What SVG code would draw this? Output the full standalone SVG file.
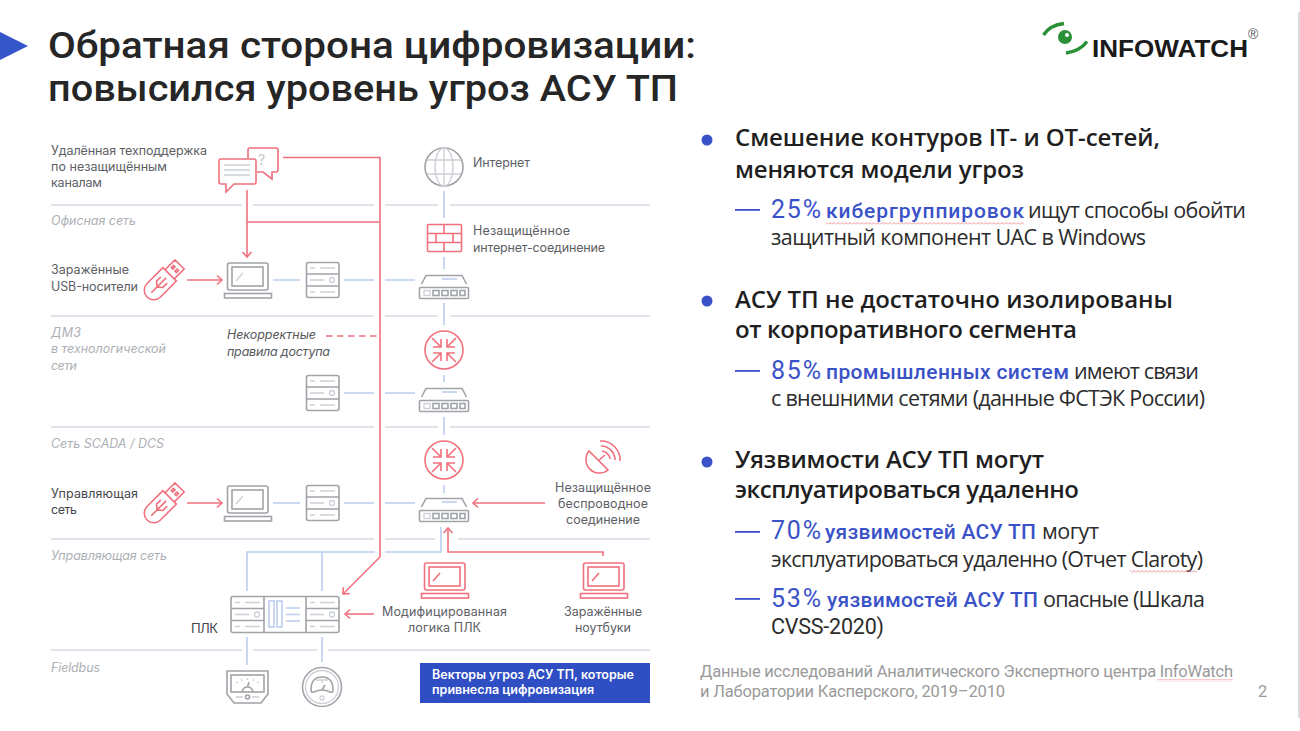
<svg xmlns="http://www.w3.org/2000/svg" width="1300" height="731" viewBox="0 0 1300 731">
<style>
text{font-family:"Open Sans","Liberation Sans",sans-serif}
.ttl{font-family:Roboto,"Open Sans",sans-serif;font-size:36.5px;font-weight:500;fill:#262626}
.h{font-size:24px;font-weight:600;fill:#1f1f1f}
.s{font-size:21.5px;fill:#2c2c2c}
.sr{font-family:Roboto,"Open Sans",sans-serif;font-size:21.5px;fill:#2c2c2c}
.sb{font-family:Roboto,"Open Sans",sans-serif;font-size:21px;font-weight:500;fill:#3a52c8}
.pc{font-family:Roboto,"Open Sans",sans-serif;font-size:25px;font-weight:400;fill:#3a52c8}
.f{font-family:Roboto,"Open Sans",sans-serif;font-size:16.5px;fill:#9a9a9a}
.l,.li,.ld{font-family:Inter,"Liberation Sans",sans-serif;font-size:12.5px}
.l{fill:#5d6065}
.li{fill:#adb0b5;font-style:italic}
.ld{fill:#55585c;font-style:italic}
.w{font-family:Inter,"Liberation Sans",sans-serif;font-size:12.5px;font-weight:600;fill:#fff}
.g{fill:none;stroke:#a0a3a7;stroke-width:1.6}
.gl{fill:none;stroke:#ccd0d6;stroke-width:1.3}
.bl{fill:none;stroke:#bccdf0;stroke-width:1.6}
.r{fill:none;stroke:#f0707e;stroke-width:1.6}
.ra{fill:none;stroke:#f0707e;stroke-width:1.6;marker-end:url(#ah)}
.rule{fill:none;stroke:#d6dae3;stroke-width:1.6}
.dash{fill:#3a52c8}
</style>
<defs>
<marker id="ah" markerUnits="userSpaceOnUse" markerWidth="12" markerHeight="12" refX="9" refY="6" orient="auto"><path d="M4 1.500L9 6L4 10.500" fill="none" stroke="#f0707e" stroke-width="1.600"/></marker>
<pattern id="sq" patternUnits="userSpaceOnUse" width="4" height="3"><path d="M0 2.500L2 .5L4 2.500" fill="none" stroke="#e8636b" stroke-width=".7"/></pattern>
<g id="lap"><rect class="g" x="3.500" y="1" width="40.500" height="27" rx="2"/><rect class="g" x="8" y="5" width="31" height="19"/><path class="gl" d="M12 19L19 11"/><rect class="g" x=".5" y="31.500" width="47" height="4.500"/></g>
<g id="lapr"><rect class="r" x="3.500" y="1" width="40.500" height="27" rx="2"/><rect class="r" x="8" y="5" width="31" height="19"/><path class="r" d="M12 19L19 11"/><rect class="r" x=".5" y="31.500" width="47" height="4.500"/></g>
<g id="srv"><rect class="g" x=".5" y=".5" width="32.500" height="35" rx="2"/><path class="g" d="M.5 12H33M.5 24H33"/><path class="gl" d="M4 6H9M14 6H29M4 18H18M4 30H9M14 30H29"/><circle class="gl" cx="26" cy="18" r="2.500"/></g>
<g id="sw"><path class="g" d="M2.500 10L7 1.500H43L47.500 10"/><path class="bl" d="M23 5H38"/><rect class="g" x=".5" y="13.500" width="49" height="11" rx="1"/><rect class="gl" x="5" y="16.500" width="6" height="5"/><g class="g"><rect x="14" y="16.500" width="6" height="5"/><rect x="23" y="16.500" width="6" height="5"/><rect x="32" y="16.500" width="6" height="5"/><rect x="41" y="16.500" width="5" height="5"/></g></g>
<g id="rt"><circle class="r" r="19"/><path class="r" d="M-12-12L-3-3M-3-11V-3H-11M12-12L3-3M3-11V-3H11M-12 12L-3 3M-3 11V3H-11M12 12L3 3M3 11V3H11"/></g>
<g id="usb"><path class="r" d="M8-9.500H-14.500A9.500 9.500 0 0 0-14.500 9.500H8ZM8-6.500H22V6.500H8M14-3.500h3v2h-3ZM14 1.500h3v2h-3ZM-18 0H3M-10 0L-6-4.500H0M-10 0L-6 4.500H0"/></g>
</defs>
<rect width="1300" height="731" fill="#fff"/>
<path d="M1299 12V718" stroke="#cfcfcf" stroke-width="1.500"/>

<g id="header">
<path d="M0 32L28 46L0 60Z" fill="#3456c8"/>
<text class="ttl" x="48" y="58" textLength="648" lengthAdjust="spacingAndGlyphs">Обратная сторона цифровизации:</text>
<text class="ttl" x="48" y="101" textLength="630" lengthAdjust="spacingAndGlyphs">повысился уровень угроз АСУ ТП</text>
</g>

<g id="logo">
<path d="M1043.500 35Q1050 25 1064 23.500M1087 41.500Q1080 51 1066 53" fill="none" stroke="#2b9138" stroke-width="3.500"/>
<circle cx="1065" cy="37" r="7" fill="#2b9138"/><circle cx="1067" cy="35" r="2" fill="#fff"/>
<text x="1092" y="57" textLength="156" lengthAdjust="spacingAndGlyphs" style="font-family:'Liberation Sans',sans-serif;font-size:23px;font-weight:700;fill:#1a1a1a">INFOWATCH</text>
<text x="1248" y="39" style="font-family:'Liberation Sans',sans-serif;font-size:14px;fill:#555">®</text>
</g>

<g id="rules">
<path class="rule" d="M51 205H242M253 205H374M385 205H438M450 205H650"/>
<path class="rule" d="M51 316H374M385 316H438M450 316H650"/>
<path class="rule" d="M51 427H374M385 427H438M450 427H650"/>
<path class="rule" d="M51 539H374M385 539H435M458 539H650"/>
<path class="rule" d="M51 650H242M253 650H317M328 650H650"/>
</g>

<g id="connectors">
<path class="bl" d="M444 191V218M444 257V269M444 303V325M444 375V382M444 417V435M444 485V493"/>
<path class="bl" d="M273 280H300M344 280H374M385 280H415M344 393H374M385 393H415M273 503H300M344 503H374M385 503H415"/>
<path class="bl" d="M441 527V552H385M375 552H247V591M322 552V591M247 637V665M322 637V662"/>
<path class="r" d="M283 157.500H380V557"/>
<path class="r" d="M247 222H380"/>
<path class="ra" d="M247 190V257"/>
<path class="ra" d="M187 280H222"/>
<path class="ra" d="M187 503H222"/>
<path class="ra" d="M380 557L343 594"/>
<path class="ra" d="M374 614H345"/>
<path class="ra" d="M545 503H473"/>
<path class="ra" d="M603 556V552H448V528"/>
<path class="r" d="M326 336H376.500" stroke-dasharray="6.500 4.500"/>
</g>

<g id="n-remote">
<path d="M248 158V150Q248 148 250 148H276Q278 148 278 150V170Q278 172 276 172H272V179L263 172H257" fill="none" stroke="#f0707e" stroke-width="1.600"/>
<text x="258" y="165" style="font-family:Inter,sans-serif;font-size:14px;fill:#c4c7cb">?</text>
<path d="M221 159H254Q256 159 256 161V182Q256 184 254 184H234L226 192V184H221Q219 184 219 182V161Q219 159 221 159Z" fill="#fff" stroke="#f0707e" stroke-width="1.600"/>
<path class="gl" d="M224 165H250M224 170H250M224 175H250"/>
<text class="l" x="51" y="155" textLength="156">Удалённая техподдержка</text>
<text class="l" x="51" y="171" textLength="116">по незащищённым</text>
<text class="l" x="51" y="187" textLength="51">каналам</text>
</g>
<g id="n-office-label"><text class="li" x="51" y="225" textLength="85">Офисная сеть</text></g>
<g id="n-internet">
<circle class="g" cx="444" cy="167" r="19"/>
<g class="gl"><ellipse cx="444" cy="167" rx="9" ry="19"/><path d="M444 148V186M427 160H461M427 174H461"/></g>
<text class="l" x="473" y="167" textLength="57">Интернет</text>
</g>
<g id="n-firewall">
<rect class="r" x="427.500" y="224.500" width="34" height="27" rx="1"/>
<path class="r" d="M427.500 233.500H461.500M427.500 242.500H461.500M444 224.500V233.500M436 233.500V242.500M453 233.500V242.500M444 242.500V251.500"/>
<text class="l" x="473" y="235" textLength="97">Незащищённое</text>
<text class="l" x="473" y="252" textLength="132">интернет-соединение</text>
</g>
<g id="n-usb1"><use href="#usb" transform="translate(164 280) rotate(-45)"/>
<text class="l" x="51" y="274" textLength="78">Заражённые</text>
<text class="l" x="51" y="291" textLength="87">USB-носители</text></g>
<g id="n-laptop1"><use href="#lap" x="224" y="262"/></g>
<g id="n-server1"><use href="#srv" x="306" y="262"/></g>
<g id="n-switch1"><use href="#sw" x="419" y="274"/></g>
<g id="n-dmz-label">
<text class="li" x="51" y="337" textLength="30">ДМЗ</text>
<text class="li" x="51" y="353" textLength="115">в технологической</text>
<text class="li" x="51" y="370" textLength="26">сети</text>
</g>
<g id="n-rules-label">
<text class="ld" x="227" y="339" textLength="89">Некорректные</text>
<text class="ld" x="227" y="356" textLength="103">правила доступа</text>
</g>
<g id="n-router1"><use href="#rt" x="444" y="350"/></g>
<g id="n-server2"><use href="#srv" x="306" y="375"/></g>
<g id="n-switch2"><use href="#sw" x="419" y="387"/></g>
<g id="n-scada-label"><text class="li" x="51" y="448" textLength="113">Сеть SCADA / DCS</text></g>
<g id="n-router2"><use href="#rt" x="444" y="460"/></g>
<g id="n-antenna">
<path class="r" d="M589 451A13.500 13.500 0 0 0 608 470ZM598 461L605 455M602 451A9 9 0 0 1 610 459M601 446A14 14 0 0 1 615 460M600 441A19 19 0 0 1 620 461"/>
<text class="l" x="555" y="492" textLength="96">Незащищённое</text>
<text class="l" x="558" y="508" textLength="90">беспроводное</text>
<text class="l" x="566" y="524" textLength="74">соединение</text>
</g>
<g id="n-usb2"><use href="#usb" transform="translate(164 503) rotate(-45)"/>
<text class="l" x="51" y="498" textLength="87" style="fill:#44474b">Управляющая</text>
<text class="l" x="51" y="514" textLength="26" style="fill:#44474b">сеть</text></g>
<g id="n-laptop2"><use href="#lap" x="224" y="485"/></g>
<g id="n-server3"><use href="#srv" x="306" y="485"/></g>
<g id="n-switch3"><use href="#sw" x="419" y="497"/></g>
<g id="n-control-label"><text class="li" x="51" y="560" textLength="116">Управляющая сеть</text></g>
<g id="n-plc">
<rect class="g" x="231" y="596.500" width="108" height="36" rx="2"/>
<path class="g" d="M264 596.500V632.500M306 596.500V632.500M231 608.500H264M231 620.500H264M306 608.500H339M306 620.500H339"/>
<path class="gl" d="M235 602.500H240M245 602.500H260M235 614.500H249M235 626.500H240M245 626.500H260M310 602.500H315M320 602.500H335M310 614.500H324M310 626.500H315M320 626.500H335"/>
<circle class="gl" cx="257" cy="614.500" r="2.500"/><circle class="gl" cx="332" cy="614.500" r="2.500"/>
<rect class="bl" x="269" y="601" width="5" height="26"/><rect class="bl" x="277" y="601" width="5" height="26"/>
<path class="bl" d="M286 608H300M286 614.500H300M286 621H300"/>
<text x="191" y="633" textLength="27" style="font-family:Inter,sans-serif;font-size:13px;fill:#44474b">ПЛК</text>
</g>
<g id="n-laptop-mod"><use href="#lapr" x="421" y="562"/>
<text class="l" x="382" y="616" textLength="125">Модифицированная</text>
<text class="l" x="408" y="632" textLength="73">логика ПЛК</text></g>
<g id="n-laptop-inf"><use href="#lapr" x="580" y="562"/>
<text class="l" x="564" y="616" textLength="78">Заражённые</text>
<text class="l" x="575" y="632" textLength="56">ноутбуки</text></g>
<g id="n-fieldbus-label"><text class="li" x="51" y="672" textLength="49">Fieldbus</text></g>
<g id="n-gauge1">
<path class="g" d="M227 671H268V694L261 703H234L227 694Z"/>
<rect class="g" x="231" y="675" width="33" height="17"/>
<path class="gl" d="M236 682L238 683M241 679L242 681M247.500 678V680M254 679L253 681M259 682L257 683"/>
<path class="g" d="M242 692Q243 687 247.500 687Q252 687 253 692M247.500 687L249 682"/>
<circle class="g" cx="247.500" cy="697" r="2"/><path class="gl" d="M236 697H243M252 697H259"/>
</g>
<g id="n-gauge2">
<circle class="g" cx="322" cy="687" r="19.500"/><circle class="gl" cx="322" cy="687" r="16.500"/>
<path class="g" d="M311 690Q311 677 322 677Q333 677 333 690Q333 693 330 692Q322 688 314 692Q311 693 311 690Z"/>
<path class="gl" d="M316 680H328M322 680V683"/><path class="g" d="M322 690L325 685"/>
<circle class="gl" cx="322" cy="698" r="2"/>
</g>
<g id="n-legend">
<rect x="420" y="663" width="230" height="40" fill="#2f4ec4"/>
<text class="w" x="432" y="679" textLength="202">Векторы угроз АСУ ТП, которые</text>
<text class="w" x="432" y="694" textLength="162">привнесла цифровизация</text>
</g>

<g id="bullets">
<circle cx="707" cy="140" r="5.500" fill="#3a52c8"/><circle cx="707" cy="301" r="5.500" fill="#3a52c8"/><circle cx="707" cy="462" r="5.500" fill="#3a52c8"/>
<text class="h" x="735" y="146" textLength="425">Смешение контуров IT- и ОТ-сетей,</text>
<text class="h" x="735" y="178" textLength="289">меняются модели угроз</text>
<rect class="dash" x="735" y="209" width="25" height="1.800"/>
<text class="pc" x="771" y="218" textLength="50">25%</text><text class="sb" x="826" y="218" textLength="198">кибергруппировок</text><text class="s" x="1028" y="218" textLength="218">ищут способы обойти</text>
<rect x="826" y="222" width="198" height="3" fill="url(#sq)"/>
<text class="s" x="771" y="245" textLength="375">защитный компонент UAC в Windows</text>
<text class="h" x="735" y="308" textLength="438">АСУ ТП не достаточно изолированы</text>
<text class="h" x="735" y="338" textLength="342">от корпоративного сегмента</text>
<rect class="dash" x="735" y="370" width="25" height="1.800"/>
<text class="pc" x="771" y="379" textLength="50">85%</text><text class="sb" x="826" y="379" textLength="243">промышленных систем</text><text class="s" x="1074" y="379" textLength="125">имеют связи</text>
<text class="s" x="771" y="406" textLength="434">с внешними сетями (данные ФСТЭК России)</text>
<text class="h" x="735" y="468" textLength="309">Уязвимости АСУ ТП могут</text>
<text class="h" x="735" y="498" textLength="344">эксплуатироваться удаленно</text>
<rect class="dash" x="735" y="531" width="25" height="1.800"/>
<text class="pc" x="771" y="539" textLength="50">70%</text><text class="sb" x="825" y="539" textLength="211">уязвимостей АСУ ТП</text><text class="s" x="1042" y="539" textLength="57">могут</text>
<text class="s" x="771" y="567" textLength="432">эксплуатироваться удаленно (Отчет Claroty)</text>
<rect x="1130" y="570" width="67" height="3" fill="url(#sq)"/>
<rect class="dash" x="735" y="598" width="25" height="1.800"/>
<text class="pc" x="771" y="607" textLength="50">53%</text><text class="sb" x="827" y="607" textLength="211">уязвимостей АСУ ТП</text><text class="s" x="1043" y="607" textLength="162">опасные (Шкала</text>
<text class="sr" x="771" y="634" textLength="113">CVSS-2020)</text>
</g>
<g id="footer">
<text class="f" x="700" y="677" textLength="533">Данные исследований Аналитического Экспертного центра InfoWatch</text>
<rect x="1157" y="679" width="76" height="3" fill="url(#sq)"/>
<text class="f" x="700" y="697" textLength="305">и Лаборатории Касперского, 2019–2010</text>
<text class="f" x="1258" y="697">2</text>
</g>
</svg>
